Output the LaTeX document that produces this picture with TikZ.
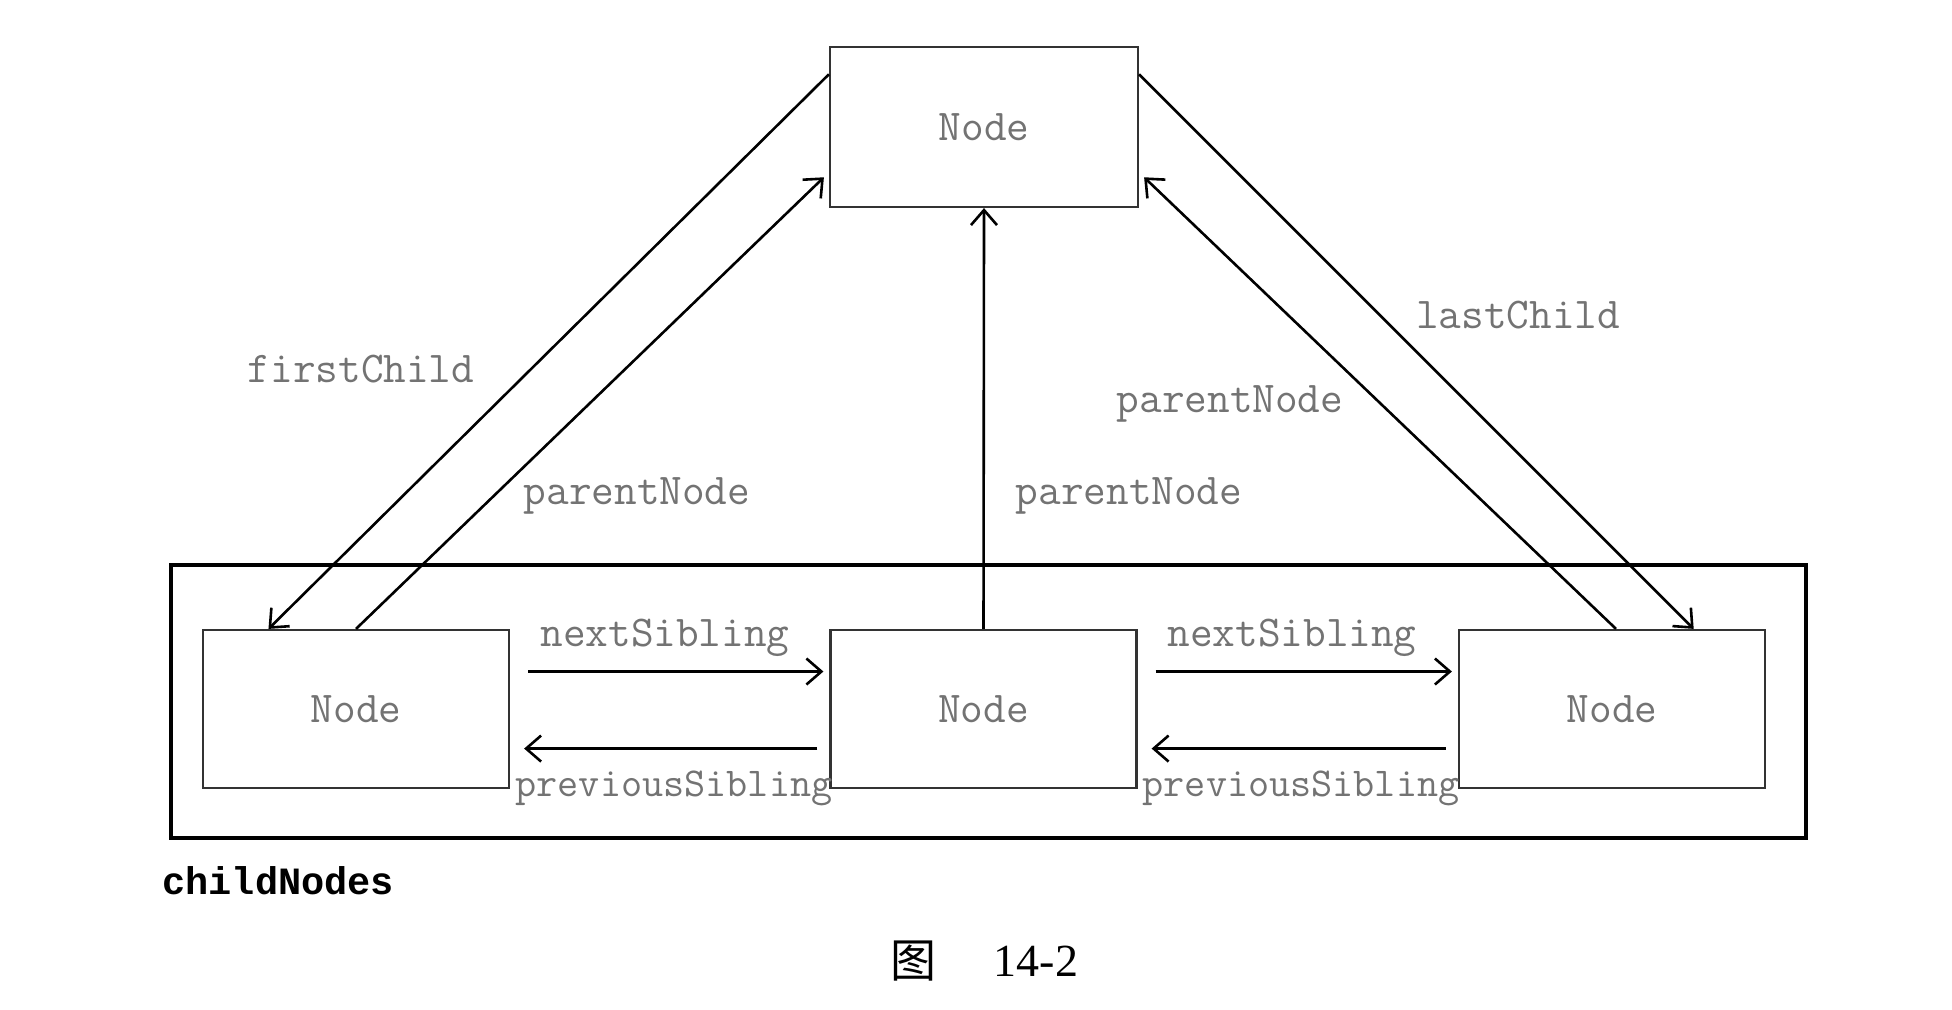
\documentclass[tikz,border=0pt]{standalone}
\usepackage{fontspec}
\newfontfamily\boldmono{Liberation Mono}
\newfontfamily\cjk{Noto Sans CJK SC}
\newfontfamily\capfont{Liberation Serif}
\usetikzlibrary{arrows.meta,calc}
\begin{document}
\begin{tikzpicture}[x=0.5pt,y=-0.5pt,
  mono/.style={font=\ttfamily\fontsize{22}{24}\selectfont},
  nodebox/.style={mono, draw=black!80, line width=1.1pt, fill=white,
    minimum width=153pt, minimum height=79pt, inner sep=0pt, text=black!55},
  link/.style={line width=1.3pt, -{Straight Barb[length=7.5pt,width=13pt,line width=1.3pt]}},
  lbl/.style={mono, text=black!55, inner sep=0pt},
  narrowlbl/.style={lbl, font=\ttfamily\fontsize{20.5}{22}\selectfont},
]
\useasboundingbox (0,0) rectangle (1952,1010);

% childNodes container
\draw[line width=2.4pt] (171,565) rectangle (1806,838);

% parent and children
\node[nodebox, minimum width=154pt, minimum height=80pt] (T) at (984,127) {Node};
\node[nodebox] (L) at (356,709) {Node};
\node[nodebox] (M) at (983.5,709) {Node};
\node[nodebox] (R) at (1612,709) {Node};

% parent <-> child links
\draw[link] ($(T.north west)!0.175!(T.south west)$) -- ($(L.north west)!0.216!(L.north east)$);
\draw[link] (L.north) -- ($(T.north west)!0.81!(T.south west)+(-5,0)$);
\draw[link] (M.north) -- (T.south);
\draw[link] ($(R.north west)!0.513!(R.north east)$) -- ($(T.north east)!0.81!(T.south east)+(5,0)$);
\draw[link] ($(T.north east)!0.175!(T.south east)$) -- ($(R.north west)!0.765!(R.north east)$);

% sibling links
\coordinate (a1) at ($(L.north east)!0.266!(L.south east)$);
\coordinate (b1) at ($(M.north west)!0.266!(M.south west)$);
\coordinate (c1) at ($(M.north west)!0.747!(M.south west)$);
\coordinate (d1) at ($(L.north east)!0.747!(L.south east)$);
\coordinate (a2) at ($(M.north east)!0.266!(M.south east)$);
\coordinate (b2) at ($(R.north west)!0.266!(R.south west)$);
\coordinate (c2) at ($(R.north west)!0.747!(R.south west)$);
\coordinate (d2) at ($(M.north east)!0.747!(M.south east)$);
\draw[link, shorten <=9pt, shorten >=3pt] (a1) -- (b1);
\draw[link, shorten <=6pt, shorten >=7pt] (c1) -- (d1);
\draw[link, shorten <=9pt, shorten >=3pt] (a2) -- (b2);
\draw[link, shorten <=6pt, shorten >=7pt] (c2) -- (d2);

% labels
\node[lbl] (lfc) at (361,369) {firstChild};
\node[lbl] (lpl) at (637,496) {parentNode};
\node[lbl] (lpm) at (1129,496) {parentNode};
\node[lbl] (lpr) at (1230,404) {parentNode};
\node[lbl] (llc) at (1518,315) {lastChild};
\node[lbl] (ln1) at (665,638) {nextSibling};
\node[narrowlbl] (lp1) at (674,788) {previousSibling};
\node[lbl] (ln2) at (1292,638) {nextSibling};
\node[narrowlbl] (lp2) at (1301,788) {previousSibling};
\node[font=\boldmono\bfseries\fontsize{19.3}{21}\selectfont, anchor=west, inner sep=0pt] (lcn) at (162,881) {childNodes};

% caption
\node[font=\cjk\fontsize{23}{26}\selectfont, inner sep=0pt] (figch) at (913,961) {图};
\node[font=\capfont\fontsize{23}{26}\selectfont, inner sep=0pt] (fignum) at (1036,961) {14-2};
\end{tikzpicture}
\end{document}
